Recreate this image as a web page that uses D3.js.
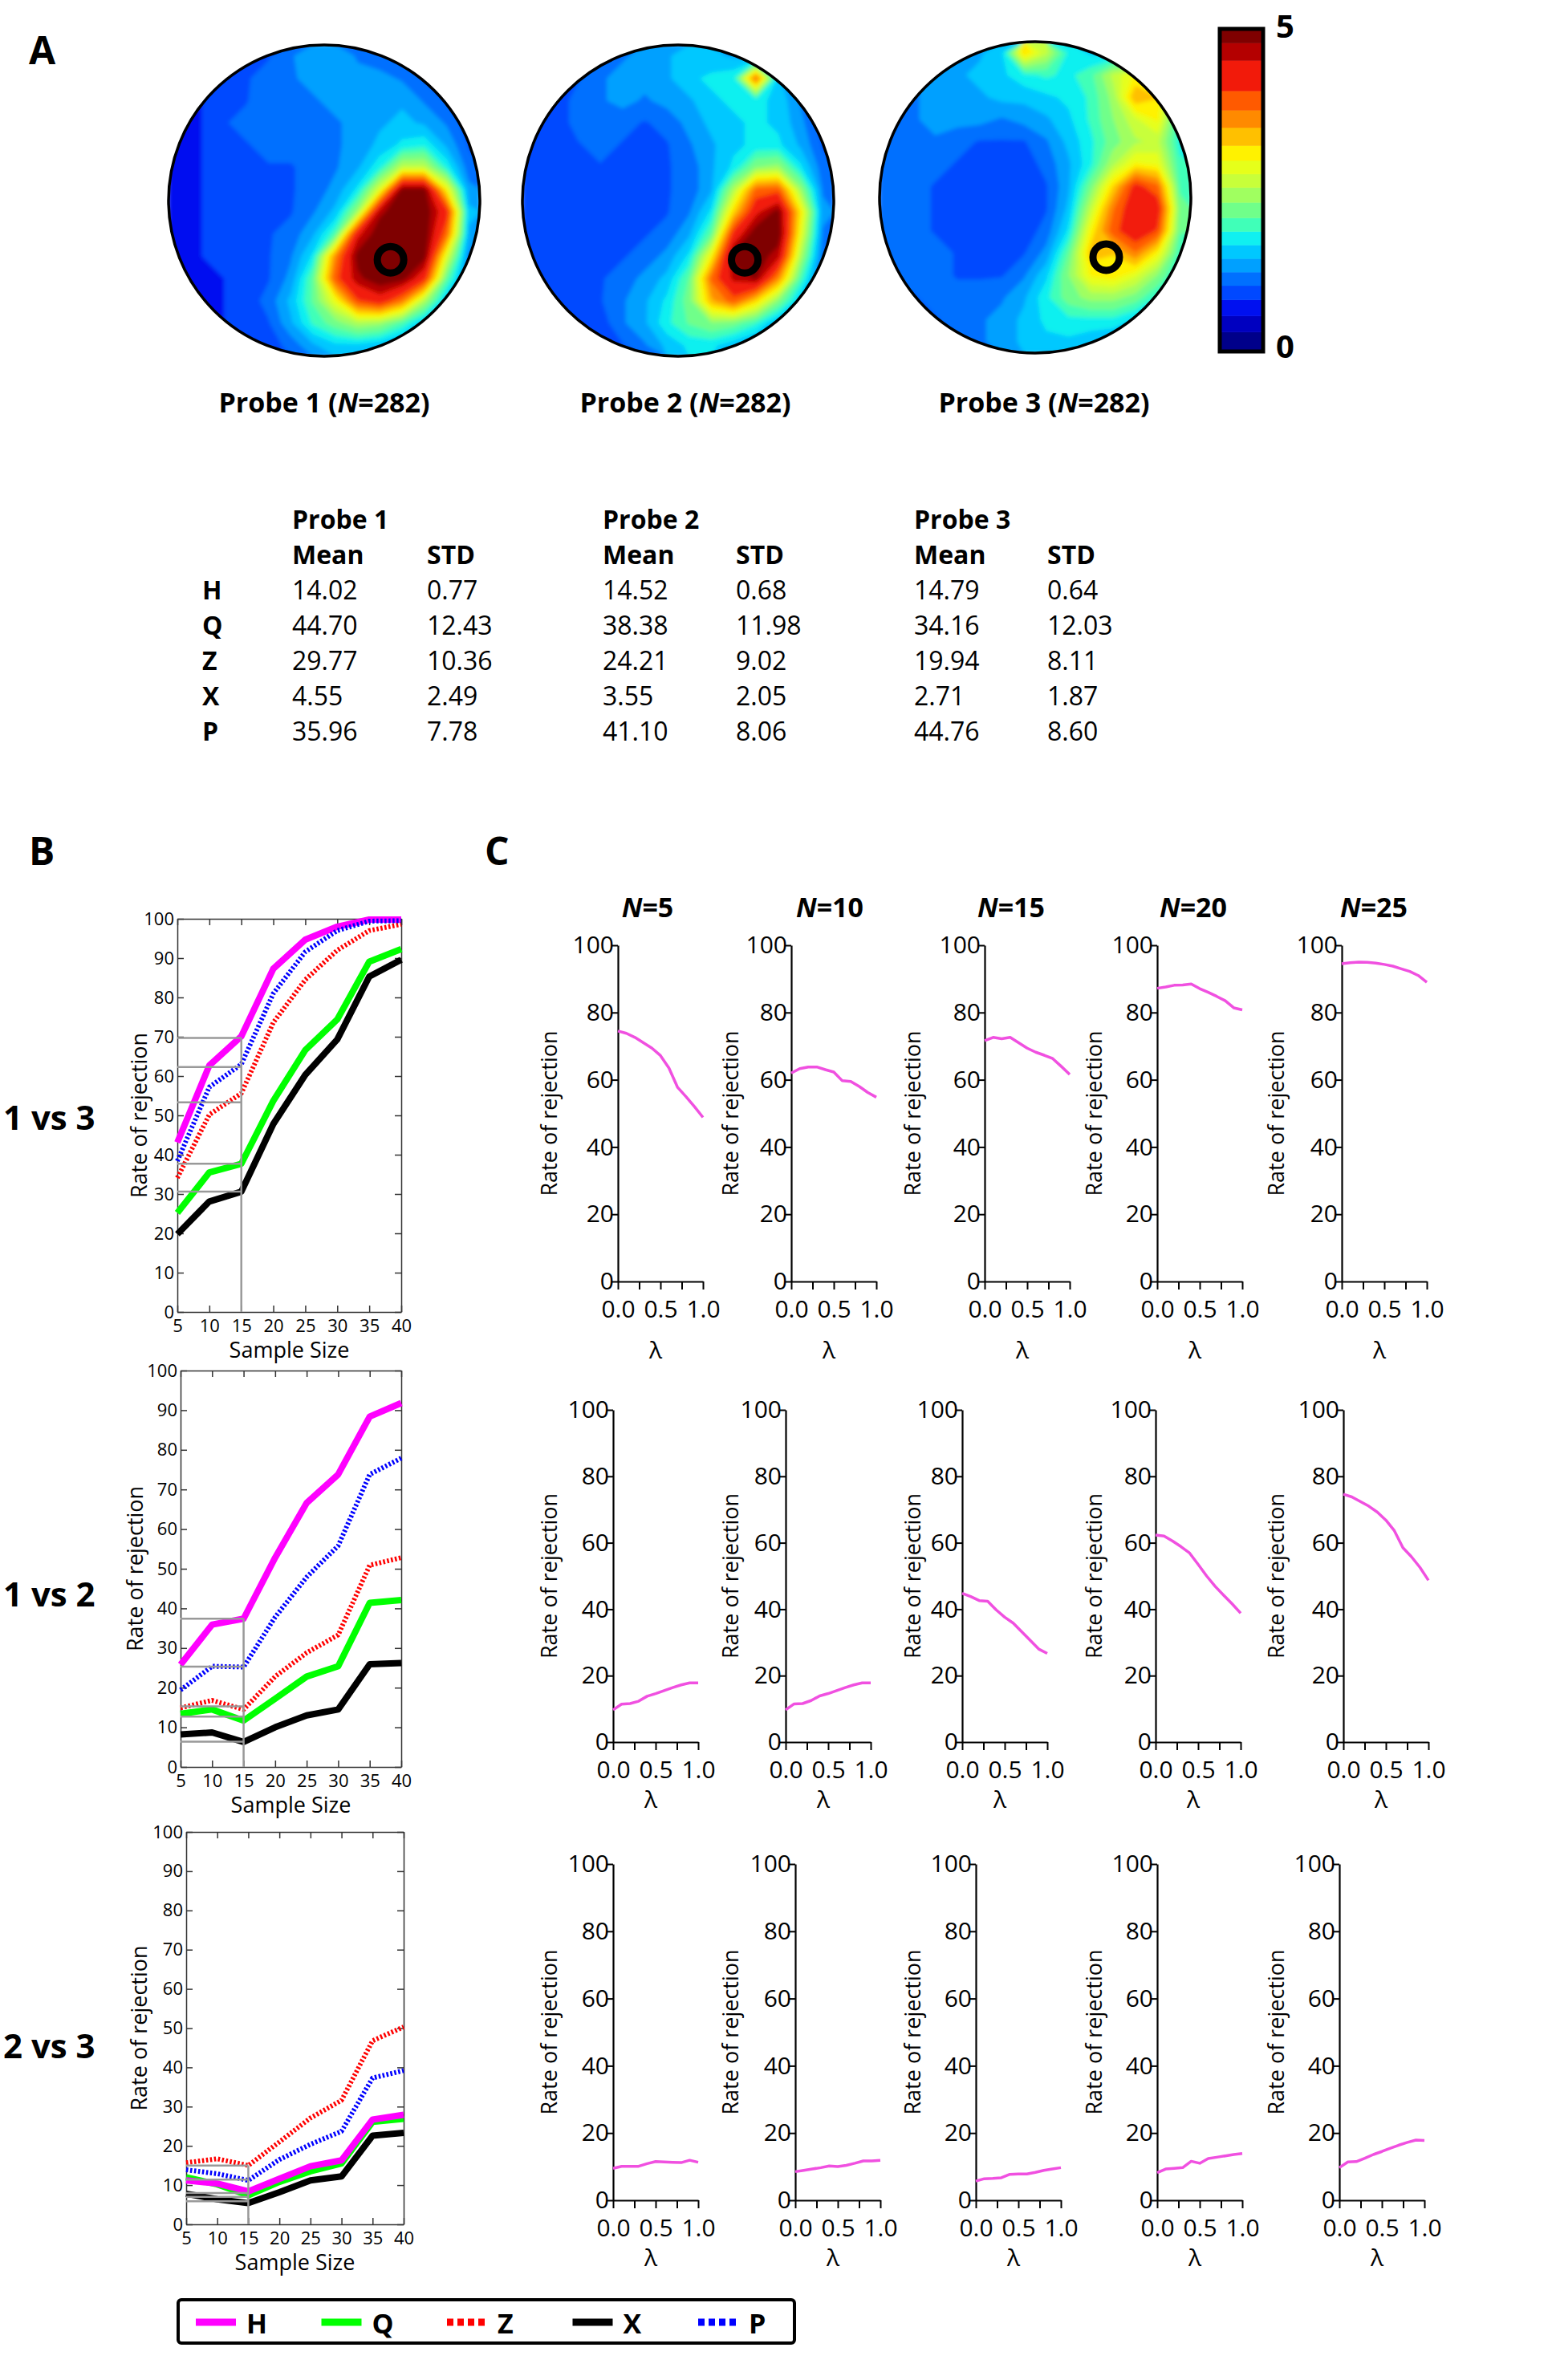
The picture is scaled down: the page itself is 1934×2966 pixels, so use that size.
<!DOCTYPE html>
<html><head><meta charset="utf-8">
<script src="https://cdn.jsdelivr.net/npm/d3@7"></script>
<style>body{margin:0;background:#fff} svg{display:block} text{font-family:'Open Sans',sans-serif}</style>
</head><body><svg id="fig" width="1934" height="2966"></svg>
<script>
// ---------------- DATA ----------------
// Panel A: heat map grids (14x14, values 0-5, read approx. from picture)
const probe1Grid = [
[0.7,0.7,0.8,0.9,1.0,1.2,1.4,1.4,1.2,1.1,1.0,0.8,0.7,0.7],
[0.7,0.8,0.9,1.0,1.1,1.2,1.3,1.3,1.3,1.3,1.2,1.0,0.8,0.7],
[0.7,0.8,0.9,1.0,1.2,1.1,1.2,1.3,1.3,1.3,1.4,1.2,1.0,0.8],
[0.7,0.8,1.0,1.1,1.1,1.1,1.1,1.2,1.3,1.4,1.5,1.4,1.2,0.9],
[0.7,0.8,0.9,1.0,1.1,1.1,1.1,1.2,1.3,1.5,1.7,1.8,1.4,1.0],
[0.7,0.8,0.9,1.0,1.0,1.0,1.1,1.2,1.4,1.8,2.6,2.6,1.8,1.1],
[0.7,0.8,0.9,0.9,1.0,1.0,1.1,1.3,1.7,2.8,4.9,4.9,3.0,1.3],
[0.7,0.8,0.9,0.9,1.0,1.0,1.2,1.5,2.4,4.7,5.0,5.0,4.2,1.5],
[0.7,0.8,0.8,0.9,1.0,1.1,1.4,2.0,4.4,5.0,5.0,5.0,3.8,1.4],
[0.7,0.8,0.8,0.9,1.0,1.2,1.7,3.6,4.9,5.0,5.0,4.9,2.8,1.2],
[0.7,0.7,0.8,0.9,1.0,1.3,2.1,3.9,4.7,5.0,4.9,4.2,2.1,1.1],
[0.7,0.7,0.8,0.9,1.1,1.5,2.1,2.9,4.0,4.3,3.7,2.5,1.5,0.9],
[0.7,0.7,0.8,0.9,1.0,1.4,1.9,2.2,2.5,2.4,2.0,1.5,1.1,0.8],
[0.7,0.7,0.7,0.8,0.9,1.1,1.4,1.6,1.6,1.5,1.3,1.0,0.8,0.7]];
const probe2Grid = [
[0.8,0.8,0.9,1.0,1.2,1.3,1.4,1.6,1.5,1.4,1.2,1.0,0.8,0.8],
[0.8,0.9,1.0,1.2,1.3,1.3,1.4,1.6,1.7,1.8,3.8,1.5,1.0,0.8],
[0.8,0.9,1.1,1.2,1.3,1.2,1.3,1.4,1.6,1.7,1.7,1.6,1.2,0.9],
[0.8,0.9,1.1,1.2,1.1,1.0,1.1,1.3,1.5,1.6,1.7,1.6,1.3,0.9],
[0.8,0.9,1.0,1.1,1.0,0.9,1.0,1.2,1.4,1.6,1.7,1.7,1.4,1.0],
[0.8,0.9,1.0,1.0,0.9,0.9,1.0,1.1,1.4,1.7,2.3,2.4,1.7,1.1],
[0.8,0.9,1.0,1.0,0.9,0.9,1.0,1.1,1.4,2.5,3.8,3.9,2.4,1.2],
[0.8,0.9,1.0,1.0,0.9,0.9,1.0,1.2,1.7,3.2,4.4,4.9,3.1,1.3],
[0.8,0.9,1.0,1.0,1.0,1.0,1.1,1.4,2.1,4.2,5.0,5.0,2.9,1.2],
[0.8,0.9,1.0,1.0,1.0,1.1,1.3,1.7,3.0,4.9,5.0,4.6,2.5,1.1],
[0.8,0.9,1.0,1.0,1.1,1.3,1.5,2.1,3.8,4.6,4.8,3.6,2.0,1.0],
[0.8,0.9,0.9,1.0,1.2,1.4,1.7,2.2,3.4,3.9,3.2,2.3,1.5,0.9],
[0.7,0.8,0.8,0.9,1.2,1.4,1.8,2.1,2.3,2.2,1.9,1.4,1.0,0.8],
[0.7,0.7,0.8,0.8,1.0,1.2,1.5,1.7,1.7,1.5,1.3,1.0,0.8,0.7]];
const probe3Grid = [
[1.2,1.2,1.2,1.3,1.4,1.6,3.2,2.6,1.8,1.6,1.5,1.3,1.2,1.2],
[1.2,1.2,1.3,1.4,1.5,1.6,1.8,1.9,1.8,2.0,2.6,3.0,2.0,1.3],
[1.2,1.2,1.3,1.4,1.4,1.5,1.5,1.6,1.7,1.9,2.4,3.4,3.2,1.6],
[1.2,1.2,1.3,1.3,1.3,1.2,1.3,1.4,1.6,1.9,2.3,2.7,3.0,1.8],
[1.1,1.2,1.2,1.1,1.0,1.0,1.0,1.2,1.5,1.8,2.2,2.5,2.6,1.8],
[1.1,1.1,1.1,1.0,0.9,0.9,0.9,1.1,1.4,1.8,2.5,3.0,2.9,1.9],
[1.1,1.1,1.0,1.0,0.9,0.9,0.9,1.0,1.4,2.2,3.2,4.2,3.8,2.0],
[1.1,1.1,1.0,1.0,0.9,0.9,0.9,1.0,1.5,2.6,3.7,4.4,4.3,2.2],
[1.1,1.1,1.0,1.0,0.9,0.9,0.9,1.1,1.7,3.0,3.9,4.4,4.0,2.1],
[1.1,1.1,1.1,1.0,0.9,0.9,1.0,1.3,2.1,3.3,3.2,3.7,3.0,1.9],
[1.1,1.1,1.1,1.0,1.0,1.0,1.2,1.6,2.3,3.0,3.1,2.8,2.3,1.7],
[1.0,1.0,1.1,1.1,1.1,1.2,1.4,1.8,2.2,2.4,2.4,2.2,1.8,1.4],
[1.0,1.0,1.0,1.1,1.2,1.3,1.5,1.7,1.8,1.8,1.8,1.6,1.3,1.1],
[0.9,1.0,1.0,1.1,1.2,1.3,1.5,1.6,1.6,1.5,1.4,1.2,1.1,1.0]];
const probeMarkers = [[0.713,0.690],[0.714,0.690],[0.728,0.692]];
const probeLabels = ["Probe 1","Probe 2","Probe 3"];
const probeN = [282,282,282];
const heatLevels = [0,0.30,0.55,0.80,1.02,1.23,1.44,1.65,1.86,2.07,2.31,2.54,2.75,2.96,3.19,3.47,3.74,4.04,4.51,4.78];
const heatColors = ["#00008a","#0000c0","#0010f0","#0048ff","#0070ff","#00a0ff","#00c8ff","#10f0f0","#40ffb8","#70ff8a","#a0ff60","#c8ff3a","#e6ff1a","#fff200","#ffc000","#ff8a00","#ff5a00","#f21a0a","#b40000","#7f0000"];
const colorbarTicks = [0,5];

// Table
const statVars = ["H","Q","Z","X","P"];
const meanP1 = [14.02,44.70,29.77,4.55,35.96];
const stdP1  = [0.77,12.43,10.36,2.49,7.78];
const meanP2 = [14.52,38.38,24.21,3.55,41.10];
const stdP2  = [0.68,11.98,9.02,2.05,8.06];
const meanP3 = [14.79,34.16,19.94,2.71,44.76];
const stdP3  = [0.64,12.03,8.11,1.87,8.60];

// Panel B
const sampleSizes = [5,10,15,20,25,30,35,40];
const seriesNames = ["H","Q","Z","X","P"];
const seriesColors = ["#ff00ff","#00ff00","#ff0000","#000000","#0000ff"];
const h1v3 = [43.1,62.7,70.1,87.3,94.7,98.0,99.8,99.8];
const q1v3 = [25.2,35.5,37.7,53.7,66.6,74.4,89.1,92.3];
const z1v3 = [34.1,50.2,55.6,73.6,84.5,92.0,97.0,98.6];
const x1v3 = [19.8,28.1,30.6,47.8,60.3,69.3,85.3,89.6];
const p1v3 = [38.4,57.2,63.0,81.0,91.6,97.0,99.4,99.5];
const h1v2 = [25.8,35.9,37.4,52.8,66.6,73.8,88.4,91.8];
const q1v2 = [13.4,14.5,11.7,17.2,22.8,25.4,41.4,42.1];
const z1v2 = [14.9,16.8,14.5,22.8,28.8,33.3,50.9,52.8];
const x1v2 = [8.2,8.7,6.3,10.0,13.0,14.5,25.9,26.2];
const p1v2 = [19.4,25.4,25.2,37.8,47.9,55.8,73.8,77.9];
const h2v3 = [11.2,10.4,8.4,11.6,14.8,16.3,26.7,27.9];
const q2v3 = [12.0,10.2,7.4,10.8,13.5,15.5,26.1,26.9];
const z2v3 = [15.7,16.7,15.0,21.0,27.1,31.6,46.8,50.3];
const x2v3 = [7.8,6.4,5.4,8.2,11.2,12.2,22.6,23.3];
const p2v3 = [13.9,12.9,11.2,16.5,20.4,23.7,37.3,39.2];
const guides1v3 = [69.7,62.3,53.3,37.7,30.6];
const guides1v2 = [37.4,25.3,15.3,12.7,6.4];
const guides2v3 = [15.0,11.4,8.0,7.0,5.9];
const comparisons = ["1 vs 3","1 vs 2","2 vs 3"];
const yTicksB = [0,10,20,30,40,50,60,70,80,90,100];

// Panel C
const lambdaVals = [0,0.1,0.2,0.3,0.4,0.5,0.6,0.7,0.8,0.9,1.0];
const cTitles = ["5","10","15","20","25"];
const cRow1 = [
[74.5,73.8,72.6,71.0,69.4,67.2,63.5,57.8,55.0,52.0,48.8],
[62.0,63.3,63.8,63.8,63.0,62.3,59.7,59.5,58.0,56.2,54.8],
[71.6,72.6,72.2,72.6,71.0,69.4,68.2,67.3,66.3,64.0,61.6],
[87.2,87.6,88.1,88.2,88.5,87.1,86.0,84.8,83.5,81.4,80.8],
[94.5,94.8,95.0,94.9,94.7,94.3,93.8,93.0,92.2,91.0,89.0]];
const cRow2 = [
[9.7,11.4,11.6,12.3,13.8,14.6,15.5,16.4,17.2,17.8,17.8],
[9.7,11.5,11.6,12.5,13.9,14.6,15.5,16.4,17.2,17.8,17.8],
[44.8,43.8,42.6,42.4,39.8,37.6,35.8,33.2,30.6,28.0,26.7],
[62.3,62.0,60.5,58.8,56.9,53.5,50.0,46.9,44.2,41.6,38.8],
[74.6,73.8,72.4,71.0,69.2,66.8,63.6,58.5,55.8,52.6,48.7]];
const cRow3 = [
[9.5,10.1,10.1,10.1,10.9,11.5,11.4,11.3,11.2,11.9,11.3],
[8.5,8.9,9.3,9.7,10.2,10.0,10.4,11.0,11.7,11.7,11.9],
[5.7,6.4,6.5,6.7,7.7,7.8,7.8,8.3,8.9,9.3,9.7],
[8.2,9.3,9.5,9.7,11.6,11.0,12.4,12.8,13.2,13.6,13.9],
[9.7,11.4,11.5,12.5,13.6,14.5,15.5,16.4,17.2,17.9,17.8]];
const yTicksC = [0,20,40,60,80,100];
const xTicksC = [0,0.25,0.5,0.75,1.0];

// ---------------- DRAW ----------------
const svg = d3.select("#fig");
const FONT = "'Open Sans', sans-serif";
svg.append("rect").attr("width",1934).attr("height",2966).attr("fill","#fff");

function label(txt,x,y,size,weight,anchor){
  return svg.append("text").attr("x",x).attr("y",y).attr("font-size",size)
    .attr("font-weight",weight||"normal").attr("text-anchor",anchor||"start").attr("fill","#000").text(txt);
}
label("A",36,80,48,"bold");
label("B",36,1078,48,"bold");
label("C",604,1078,48,"bold");

// ---- Panel A heat maps
const heatColor = d3.scaleThreshold().domain(heatLevels.slice(1)).range(heatColors);
const grids = [probe1Grid, probe2Grid, probe3Grid];
const circles = [{cx:404,cy:250,r:194},{cx:845,cy:250,r:194},{cx:1290,cy:246,r:194}];
const defs = svg.append("defs");
defs.append("filter").attr("id","soft").attr("x","-5%").attr("y","-5%").attr("width","110%").attr("height","110%")
  .append("feGaussianBlur").attr("stdDeviation",2.5);
grids.forEach((grid,i)=>{
  const c = circles[i];
  const n = grid[0].length, m = grid.length;
  defs.append("clipPath").attr("id","clip"+i).append("circle").attr("cx",c.cx).attr("cy",c.cy).attr("r",c.r);
  const contours = d3.contours().size([n,m]).thresholds(heatLevels)(grid.flat());
  const proj = d3.geoIdentity().scale(2*c.r/n).translate([c.cx-c.r, c.cy-c.r]);
  const path = d3.geoPath(proj);
  const g = svg.append("g").attr("clip-path",`url(#clip${i})`).append("g").attr("filter","url(#soft)");
  g.selectAll("path").data(contours).join("path")
    .attr("d",path).attr("fill",d=>heatColor(d.value)).attr("stroke",d=>heatColor(d.value)).attr("stroke-width",0.5);
  svg.append("circle").attr("cx",c.cx).attr("cy",c.cy).attr("r",c.r).attr("fill","none").attr("stroke","#000").attr("stroke-width",3.5);
  const mk = probeMarkers[i];
  svg.append("circle").attr("cx",c.cx-c.r+mk[0]*2*c.r).attr("cy",c.cy-c.r+mk[1]*2*c.r).attr("r",16.5)
    .attr("fill","none").attr("stroke","#000").attr("stroke-width",9);
  const t = svg.append("text").attr("x",[404,854,1301][i]).attr("y",514).attr("text-anchor","middle")
    .attr("font-size",34).attr("font-weight","bold");
  t.append("tspan").text(probeLabels[i]+" (");
  t.append("tspan").attr("font-style","italic").text("N");
  t.append("tspan").text("="+probeN[i]+")");
});
// colorbar
const cbY = d3.scaleLinear().domain([0,5]).range([438,36]);
const cbX = 1520, cbW = 54;
heatLevels.forEach((lv,i)=>{
  const top = i<heatLevels.length-1 ? heatLevels[i+1] : 5;
  svg.append("rect").attr("x",cbX).attr("y",cbY(top)).attr("width",cbW).attr("height",cbY(lv)-cbY(top)).attr("fill",heatColors[i]).attr("stroke",heatColors[i]).attr("stroke-width",0.5);
});
svg.append("rect").attr("x",cbX).attr("y",cbY(5)).attr("width",cbW).attr("height",cbY(0)-cbY(5)).attr("fill","none").attr("stroke","#000").attr("stroke-width",5);
colorbarTicks.forEach(v=>{
  label(String(v),1590, v===5? cbY(v)+11 : cbY(v)+8, 40,"bold");
});

// ---- Table
const colX = [364,751,1139];
const stdX = [532,917,1305];
const means = [meanP1,meanP2,meanP3], stds=[stdP1,stdP2,stdP3];
probeLabels.forEach((p,i)=>{
  label(p,colX[i],659,32,"bold");
  label("Mean",colX[i],703,32,"bold");
  label("STD",stdX[i],703,32,"bold");
  statVars.forEach((v,j)=>{
    label(means[i][j].toFixed(2),colX[i],747+44*j,32);
    label(stds[i][j].toFixed(2),stdX[i],747+44*j,32);
  });
});
statVars.forEach((v,j)=>label(v,252,747+44*j,32,"bold"));

// ---- Panel B
const bSeries = [[h1v3,q1v3,z1v3,x1v3,p1v3],[h1v2,q1v2,z1v2,x1v2,p1v2],[h2v3,q2v3,z2v3,x2v3,p2v3]];
const bGuides = [guides1v3,guides1v2,guides2v3];
const bBoxes = [{l:221,r:500,t:1145,b:1635,lx:183,ry:1408},{l:225,r:500,t:1708,b:2202,lx:178,ry:2002},{l:232,r:503,t:2283,b:2772,lx:183,ry:2565}];
const drawOrder = [1,3,0,2,4]; // Q, X, H, Z, P
bBoxes.forEach((bx,k)=>{
  const x = d3.scaleLinear().domain([5,40]).range([bx.l,bx.r]);
  const y = d3.scaleLinear().domain([0,100]).range([bx.b,bx.t]);
  const g = svg.append("g");
  const styleAxis = s => { s.attr("font-family",FONT).attr("font-size",22);
    s.selectAll("line").attr("stroke","#333").attr("stroke-width",1.5);
    s.selectAll("path").attr("stroke","#333").attr("stroke-width",1.5);
    s.selectAll("text").attr("fill","#000"); };
  g.append("g").attr("transform",`translate(0,${bx.b})`)
    .call(d3.axisBottom(x).tickValues(sampleSizes).tickSizeInner(-8).tickSizeOuter(0).tickPadding(9)).call(styleAxis);
  g.append("g").attr("transform",`translate(0,${bx.t})`)
    .call(d3.axisTop(x).tickValues(sampleSizes).tickSizeInner(-8).tickSizeOuter(0).tickFormat("")).call(styleAxis);
  g.append("g").attr("transform",`translate(${bx.l},0)`)
    .call(d3.axisLeft(y).tickValues(yTicksB).tickSizeInner(-8).tickSizeOuter(0).tickPadding(4)).call(styleAxis);
  g.append("g").attr("transform",`translate(${bx.r},0)`)
    .call(d3.axisRight(y).tickValues(yTicksB).tickSizeInner(-8).tickSizeOuter(0).tickFormat("")).call(styleAxis);
  const line = d3.line().x((d,i)=>x(sampleSizes[i])).y(d=>y(d));
  drawOrder.forEach(si=>{
    const dotted = seriesNames[si]==="Z"||seriesNames[si]==="P";
    g.append("path").attr("d",line(bSeries[k][si])).attr("fill","none")
      .attr("stroke",seriesColors[si]).attr("stroke-width",dotted?6:8)
      .attr("stroke-dasharray",dotted?"2.5,2.5":null).attr("stroke-linejoin","round");
  });
  const gl = bGuides[k];
  gl.forEach(v=>{
    g.append("line").attr("x1",x(5)).attr("x2",x(15)).attr("y1",y(v)).attr("y2",y(v)).attr("stroke","#999").attr("stroke-width",2.5);
  });
  g.append("line").attr("x1",x(15)).attr("x2",x(15)).attr("y1",y(0)).attr("y2",y(d3.max(gl))).attr("stroke","#999").attr("stroke-width",2.5);
  svg.append("text").attr("transform",`translate(${bx.lx},${(bx.t+bx.b)/2}) rotate(-90)`).attr("text-anchor","middle")
    .attr("font-size",27).text("Rate of rejection");
  label("Sample Size",(bx.l+bx.r)/2,bx.b+57,27,"normal","middle");
  label(comparisons[k],4,bx.ry,42,"bold");
});

// ---- Panel C
const cRows = [cRow1,cRow2,cRow3];
const cAxisX = [[770,986,1227,1442,1672],[764,979,1199,1440,1674],[764,991,1216,1442,1669]];
const cAxisY = [[1178,1597],[1757,2171],[2323,2742]];
const cLambdaY = [1693,2253,2824];
const cLabelX = [694,920,1147,1373,1600];
const cTitleX = [807,1034,1260,1487,1712];
const cW = 106;
cRows.forEach((row,r)=>{
  row.forEach((vals,c)=>{
    const ax = cAxisX[r][c];
    const x = d3.scaleLinear().domain([0,1]).range([ax,ax+cW]);
    const y = d3.scaleLinear().domain([0,100]).range([cAxisY[r][1],cAxisY[r][0]]);
    const g = svg.append("g");
    const styleAxis = s => { s.attr("font-family",FONT).attr("font-size",30);
      s.selectAll("line").attr("stroke","#000").attr("stroke-width",2);
      s.selectAll("path").attr("stroke","#000").attr("stroke-width",2.2);
      s.selectAll("text").attr("fill","#000"); };
    g.append("g").attr("transform",`translate(0,${y(0)})`)
      .call(d3.axisBottom(x).tickValues(xTicksC).tickSizeInner(10).tickSizeOuter(0).tickPadding(14)
        .tickFormat(d=> (d===0||d===0.5||d===1) ? d3.format(".1f")(d) : "")).call(styleAxis);
    g.append("g").attr("transform",`translate(${ax},0)`)
      .call(d3.axisLeft(y).tickValues(yTicksC).tickSizeInner(8).tickSizeOuter(0).tickPadding(-3)).call(styleAxis);
    g.append("path").attr("d",d3.line().x((d,i)=>x(lambdaVals[i])).y(d=>y(d))(vals))
      .attr("fill","none").attr("stroke","#f050e0").attr("stroke-width",3.5).attr("stroke-linejoin","round");
    svg.append("text").attr("transform",`translate(${cLabelX[c]},${(cAxisY[r][0]+cAxisY[r][1])/2}) rotate(-90)`)
      .attr("text-anchor","middle").attr("font-size",27).text("Rate of rejection");
    label("λ",ax+cW/2-6,cLambdaY[r],30,"normal","middle");
    if(r===0){
      const t = svg.append("text").attr("x",cTitleX[c]).attr("y",1143).attr("text-anchor","middle").attr("font-size",34).attr("font-weight","bold");
      t.append("tspan").attr("font-style","italic").text("N");
      t.append("tspan").text("="+cTitles[c]);
    }
  });
});

// ---- Legend
svg.append("rect").attr("x",222).attr("y",2866).attr("width",768).attr("height",54).attr("rx",4)
  .attr("fill","#fff").attr("stroke","#000").attr("stroke-width",4);
seriesNames.forEach((s,i)=>{
  const x0 = 244 + i*156.5;
  const dotted = s==="Z"||s==="P";
  svg.append("line").attr("x1",x0).attr("x2",x0+50).attr("y1",2894).attr("y2",2894)
    .attr("stroke",seriesColors[i]).attr("stroke-width",9).attr("stroke-dasharray",dotted?"8,5":null);
  label(s,x0+63,2908,34,"bold");
});
</script></body></html>
